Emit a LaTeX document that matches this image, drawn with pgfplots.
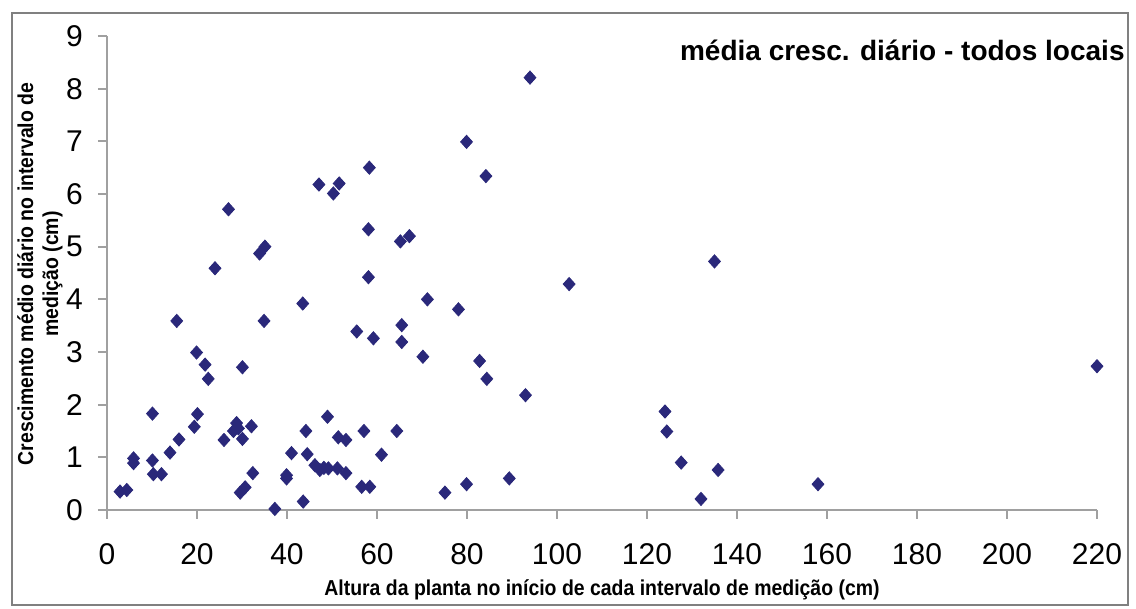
\documentclass[border=0pt]{standalone}
\usepackage{fontspec}
\setmainfont{Liberation Sans}
\newfontfamily\narrowfont[FakeStretch=0.9]{Liberation Sans}
\usepackage{pgfplots}
\pgfplotsset{compat=1.18}
\definecolor{navymark}{RGB}{42,40,122}
\definecolor{axgray}{RGB}{160,160,160}
\definecolor{framegray}{RGB}{128,128,128}
\begin{document}
\begin{tikzpicture}
\useasboundingbox (-53.5pt,-49.5pt) rectangle (514.5pt,255pt);
\draw[framegray, line width=1pt] (-47.5pt,-47.5pt) rectangle (510.5pt,248.5pt);
\begin{axis}[
  scale only axis,
  width=495pt, height=237pt,
  xmin=0, xmax=220, ymin=0, ymax=9,
  axis x line=bottom, axis y line=left,
  axis line style={-, axgray, line width=1.2pt},
  tick style={axgray, line width=0.9pt},
  tick align=outside,
  major tick length=4.5pt,
  xtick={0,20,...,220}, ytick={0,1,...,9},
  /pgf/number format/assume math mode=true,
  tick label style={font=\fontsize{15}{15}\selectfont, black},
  xticklabel style={yshift=-8.5pt},
  yticklabel style={xshift=-4pt},
  clip=false,
]
\addplot[only marks, mark=diamond*, mark size=3.3pt, color=navymark,
  mark options={xscale=1.2, fill=navymark, draw=navymark}]
coordinates {
(2.9,0.35)(4.4,0.38)(5.9,0.98)(5.9,0.89)(10.1,1.83)(10.1,0.94)(10.3,0.68)(12.1,0.68)
(14,1.09)(15.5,3.59)(16,1.34)(19.9,2.99)(21.8,2.76)(22.5,2.49)(20.1,1.82)(19.4,1.58)
(24,4.59)(26,1.33)(27,5.71)(28.1,1.5)(28.8,1.65)(29.2,1.55)(30.1,2.71)(30.1,1.35)(32.1,1.59)
(32.4,0.70)(29.6,0.33)(30.7,0.43)(33.9,4.87)(35.1,5.0)(34.9,3.59)(37.3,0.02)
(39.9,0.66)(39.9,0.60)(41,1.08)(43.5,3.92)(43.6,0.16)(44.2,1.5)(44.5,1.06)
(46.2,0.85)(47.3,0.76)(48.2,0.80)(49.2,0.79)(51.2,0.79)(53.1,0.70)(47.1,6.18)(49,1.77)
(50.3,6.01)(51.6,6.2)(51.4,1.38)(53.1,1.33)(55.5,3.39)(56.6,0.44)(58.4,0.44)
(57.1,1.5)(58.3,6.5)(58.1,5.33)(58.1,4.42)(59.2,3.26)(61,1.05)(64.4,1.5)
(65.5,3.51)(65.5,3.19)(65.2,5.1)(67.2,5.2)(70.2,2.91)(71.2,4.0)(75.1,0.33)
(78.1,3.81)(79.9,6.99)(79.9,0.49)(82.8,2.83)(84.2,6.34)(84.4,2.49)(89.4,0.60)
(93,2.18)(94,8.21)(102.7,4.29)(124,1.87)(124.4,1.49)(127.6,0.90)(132,0.21)
(135,4.72)(135.8,0.76)(158,0.49)(220,2.73)
};
\end{axis}
\node[anchor=east, inner sep=0pt, font=\fontsize{14}{16}\selectfont\bfseries] at (509pt,230pt) {média cresc. diário - todos locais};
\node[rotate=90, align=center, inner sep=0pt, font=\narrowfont\fontsize{10.8}{12.5}\selectfont\bfseries] at (-33.5pt,118pt) {Crescimento médio diário no intervalo de\\medição (cm)};
\node[inner sep=0pt, font=\narrowfont\fontsize{10.8}{12}\selectfont\bfseries] at (247.5pt,-40pt) {Altura da planta no início de cada intervalo de medição (cm)};
\end{tikzpicture}
\end{document}
